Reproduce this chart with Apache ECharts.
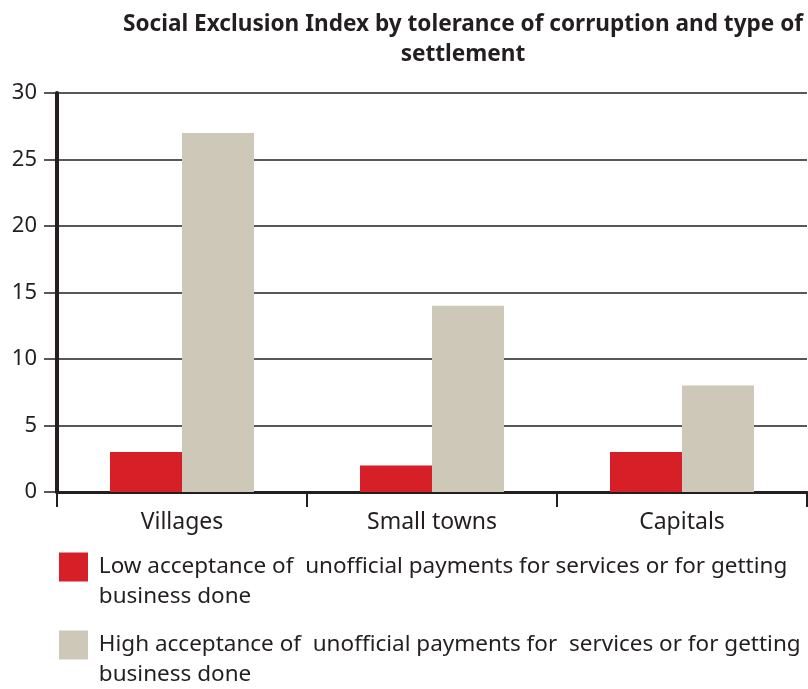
<!DOCTYPE html>
<html>
<head>
<meta charset="utf-8">
<script src="https://cdn.jsdelivr.net/npm/echarts@6/dist/echarts.min.js"></script>
<style>
  html, body { margin: 0; padding: 0; background: #fff; }
  #chart { width: 808px; height: 689px; }
</style>
</head>
<body>
<div id="chart"></div>
<script>
/* ---- data ---- */
const categories = ["Villages", "Small towns", "Capitals"];
const lowAcceptance = [3, 2, 3];
const highAcceptance = [27, 14, 8];
const seriesNames = [
  "Low acceptance of  unofficial payments for services or for getting",
  "High acceptance of  unofficial payments for  services or for getting",
];

const INK = "#231f20";
const FONT = "'Noto Sans', sans-serif";

const chart = echarts.init(document.getElementById("chart"), null, { renderer: "canvas" });

// legend entry: leading blank line so the swatch sits on the first text line
function legendBlock(name, top) {
  return {
    data: [name],
    orient: "vertical",
    left: 59,
    top,
    padding: 0,
    itemWidth: 29,
    itemHeight: 29,
    icon: "rect",
    selectedMode: false,
    formatter: (n) => "\n " + n + "\n business done",
    textStyle: { fontFamily: FONT, fontSize: 22.5, color: INK, lineHeight: 30 },
  };
}

chart.setOption({
  animation: false,
  title: {
    text: "Social Exclusion Index by tolerance of corruption and type of\nsettlement",
    left: 458,
    top: 5,
    textAlign: "center",
    textStyle: { fontFamily: FONT, fontSize: 22.6, fontWeight: "bold", color: INK, lineHeight: 30 },
  },
  grid: { left: 57, right: 1, top: 93, bottom: 197 },
  legend: [legendBlock(seriesNames[0], 522), legendBlock(seriesNames[1], 600)],
  xAxis: {
    type: "category",
    data: categories,
    axisLine: { lineStyle: { color: INK, width: 3 } },
    axisTick: { show: true, length: 15, lineStyle: { color: INK, width: 2 } },
    axisLabel: { fontFamily: FONT, fontSize: 23, color: INK, margin: 19 },
  },
  yAxis: {
    type: "value",
    min: 0,
    max: 30,
    interval: 5,
    axisLine: { show: true, lineStyle: { color: INK, width: 4 } },
    axisTick: { show: true, length: 13, lineStyle: { color: INK, width: 1.5 } },
    axisLabel: { fontFamily: FONT, fontSize: 22, color: INK, margin: 20 },
    splitLine: { lineStyle: { color: INK, width: 1.5 } },
  },
  series: [
    {
      name: seriesNames[0],
      type: "bar",
      data: lowAcceptance,
      barWidth: 72,
      barGap: "0%",
      itemStyle: { color: "#d71f28" },
    },
    {
      name: seriesNames[1],
      type: "bar",
      data: highAcceptance,
      barWidth: 72,
      barGap: "0%",
      itemStyle: { color: "#cec8b9" },
    },
  ],
});
</script>
</body>
</html>
